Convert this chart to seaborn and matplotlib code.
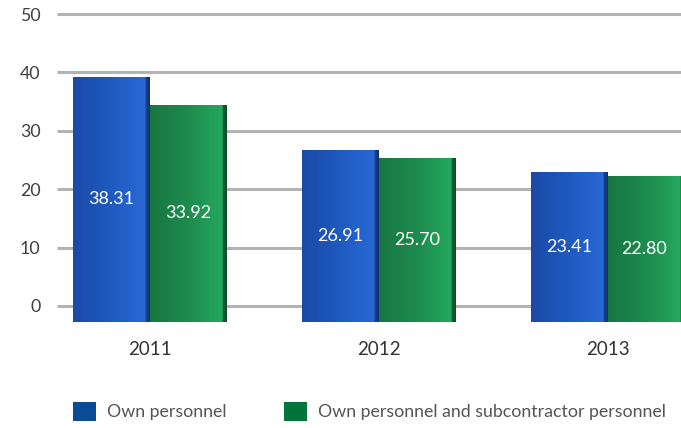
import numpy as np
import pandas as pd
import matplotlib
matplotlib.use("Agg")
import matplotlib.pyplot as plt
import seaborn as sns
from matplotlib.colors import LinearSegmentedColormap
from matplotlib.patches import Patch

# Data
years = ["2011", "2012", "2013"]
own = [38.31, 26.91, 23.41]
own_and_sub = [33.92, 25.70, 22.80]
series = ["Own personnel", "Own personnel and subcontractor personnel"]
y_ticks = [0, 10, 20, 30, 40, 50]

df = pd.DataFrame({
    "year": years * 2,
    "series": [series[0]] * len(years) + [series[1]] * len(years),
    "value": own + own_and_sub,
})

sns.set_theme(style="white")
plt.rcParams["font.family"] = ["Lato", "DejaVu Sans"]

W, H = 681, 428
fig = plt.figure(figsize=(W / 100, H / 100), dpi=100)
left, right, top, bottom = 57, 681, 10, 322
rect = [left / W, 1 - bottom / H, (right - left) / W, (bottom - top) / H]

# Back plane: gridlines and value axis (its own perspective scale)
ax_grid = fig.add_axes(rect)
grid_px_per_unit = 5.84
grid_zero_px = 306
ax_grid.set_ylim(-(bottom - grid_zero_px) / grid_px_per_unit,
                 (grid_zero_px - top) / grid_px_per_unit)
ax_grid.set_xlim(0, 1)
for t in y_ticks:
    ax_grid.plot([0, 1], [t, t], color="#b3b3b3", lw=2.2,
                 solid_capstyle="butt", zorder=1, clip_on=False)
ax_grid.set_yticks(y_ticks)
ax_grid.set_xticks([])
ax_grid.tick_params(axis="y", length=0, pad=12, labelsize=12.8, labelcolor="#404040")
for s in ax_grid.spines.values():
    s.set_visible(False)

# Front plane: bars
blue, green = "#1f5bc0", "#1e8c4e"
ax = fig.add_axes(rect, zorder=2)
ax.patch.set_alpha(0)
sns.barplot(data=df, x="year", y="value", hue="series", hue_order=series,
            palette=[blue, green], width=0.67, saturation=1, linewidth=0,
            legend=False, ax=ax)

bar_px_per_unit = 6.4
xlim = (-0.406, 2.319)
ylim = (0, (bottom - top) / bar_px_per_unit)

# Shaded faces: lighter towards the right, with a dark side face
cmaps = {
    blue: LinearSegmentedColormap.from_list(
        "b", [(0, "#1a4aa6"), (0.5, "#1f5ac0"), (0.94, "#2869d6"), (0.95, "#17408c"), (1, "#10306c")]),
    green: LinearSegmentedColormap.from_list(
        "g", [(0, "#187542"), (0.5, "#1e8c4e"), (0.94, "#24a85e"), (0.95, "#166036"), (1, "#0f4a28")]),
}
grad = np.linspace(0, 1, 256).reshape(1, -1)
for container, col in zip(ax.containers, [blue, green]):
    for p in container.patches:
        x0, y0, w, h = p.get_x(), p.get_y(), p.get_width(), p.get_height()
        im = ax.imshow(grad, extent=[x0, x0 + w, y0, y0 + h], aspect="auto",
                       cmap=cmaps[col], zorder=p.get_zorder() + 0.1,
                       interpolation="bilinear")
        im.set_clip_path(p)
    ax.bar_label(container, labels=[f"{v:.2f}" for v in container.datavalues],
                 label_type="center", color="white", fontsize=13, zorder=5)

ax.set_xlim(*xlim)
ax.set_ylim(*ylim)
ax.set_yticks([])
ax.set_xlabel("")
ax.set_ylabel("")
ax.tick_params(axis="x", length=0, pad=14, labelsize=13.5, labelcolor="#333333")
for s in ax.spines.values():
    s.set_visible(False)

handles = [Patch(facecolor="#0b4a95", edgecolor="none"),
           Patch(facecolor="#00743a", edgecolor="none")]
fig.legend(handles, series, loc="center left", bbox_to_anchor=(73 / W, 1 - 411.5 / H),
           ncol=2, frameon=False, fontsize=12.8, handlelength=1.3, handleheight=1.3,
           handletextpad=0.62, columnspacing=3.2, borderpad=0, borderaxespad=0,
           labelcolor="#555555")

fig.savefig("out.png", dpi=100)
